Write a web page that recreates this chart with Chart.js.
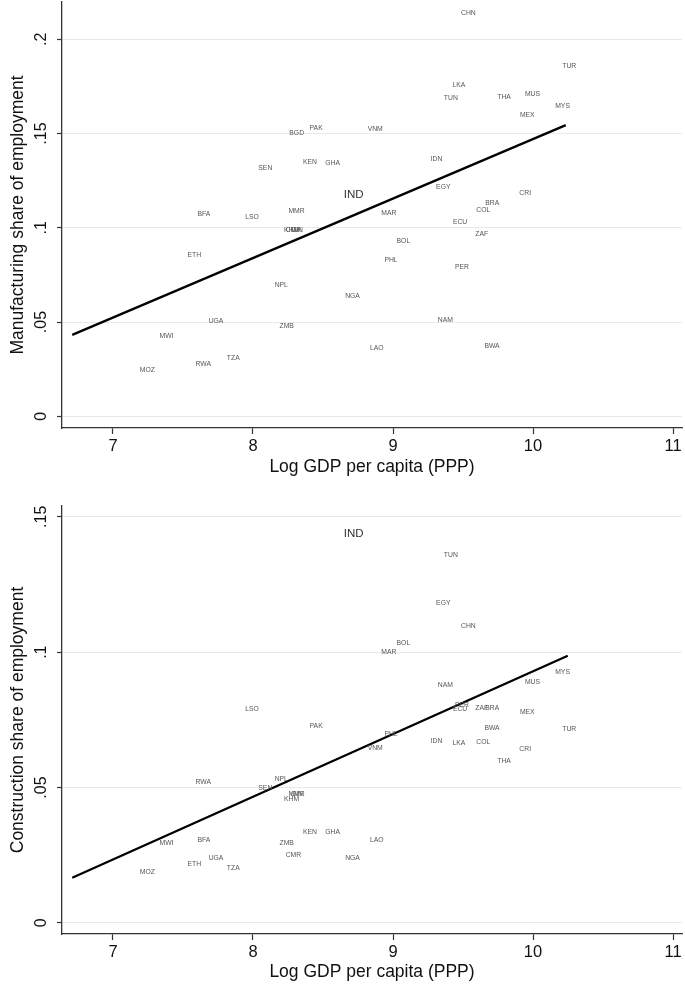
<!DOCTYPE html>
<html>
<head>
<meta charset="utf-8">
<script src="https://cdn.jsdelivr.net/npm/chart.js@4.4.1/dist/chart.umd.min.js"></script>
<style>
  html, body { margin: 0; padding: 0; background: #fff; }
  canvas { display: block; }
</style>
</head>
<body>
<canvas id="manufChart" width="685" height="480"></canvas>
<canvas id="constrChart" width="685" height="505"></canvas>
<script>
// Data
const countries = ["BGD","PAK","VNM","SEN","KEN","GHA","IND","BFA","LSO","MMR","CHN","TUR","LKA","TUN","THA","MUS","MYS","MEX","IDN","EGY","CRI","BRA","COL","MAR","KHM","CMR","GIN","ETH","NPL","NGA","UGA","ZMB","MWI","LAO","TZA","RWA","MOZ","ECU","ZAF","BOL","PHL","PER","NAM","BWA"];
const logGdp = [8.312, 8.451, 8.873, 8.088, 8.407, 8.569, 8.719, 7.650, 7.993, 8.311, 9.538, 10.259, 9.471, 9.413, 9.793, 9.996, 10.211, 9.959, 9.311, 9.359, 9.944, 9.709, 9.645, 8.970, 8.276, 8.289, 8.314, 7.581, 8.202, 8.711, 7.736, 8.241, 7.382, 8.884, 7.859, 7.645, 7.245, 9.479, 9.634, 9.074, 8.986, 9.493, 9.374, 9.707];
const manufShare = [0.1501, 0.1529, 0.1524, 0.1319, 0.1349, 0.1345, 0.1174, 0.1073, 0.1059, 0.1091, 0.2141, 0.1858, 0.1759, 0.1689, 0.1696, 0.1708, 0.1645, 0.1597, 0.1367, 0.1215, 0.1185, 0.1130, 0.1094, 0.1077, 0.0988, 0.0988, 0.0988, 0.0854, 0.0695, 0.0638, 0.0506, 0.0481, 0.0424, 0.0364, 0.0309, 0.0279, 0.0246, 0.1032, 0.0967, 0.0928, 0.0828, 0.0794, 0.0511, 0.0371];
const constrShare = [null, 0.0727, 0.0645, 0.0498, 0.0336, 0.0336, 0.1437, 0.0307, 0.0788, 0.0475, 0.1097, 0.0716, 0.0664, 0.1359, 0.0597, 0.0891, 0.0927, 0.0779, 0.0673, 0.1182, 0.0643, 0.0792, 0.0668, 0.0999, 0.0458, 0.0249, 0.0475, 0.0218, 0.0531, 0.0241, 0.0241, 0.0293, 0.0293, 0.0307, 0.0202, 0.0521, 0.0187, 0.0788, 0.0794, 0.1033, 0.0697, 0.0805, 0.0877, 0.0718];

// fitted lines (end points)
const manufFitX = [6.709, 10.234];
const manufFitY = [0.0432, 0.1545];
const constrFitX = [6.709, 10.248];
const constrFitY = [0.0167, 0.0987];

// ticks
const xTicks = [7, 8, 9, 10, 11];
const manufTicks = [0, 0.05, 0.1, 0.15, 0.2];
const manufTickLabels = ["0", ".05", ".1", ".15", ".2"];
const constrTicks = [0, 0.05, 0.1, 0.15];
const constrTickLabels = ["0", ".05", ".1", ".15"];

const FONT = "'Liberation Sans', Arial, sans-serif";

// country codes drawn at each point
const codeLabels = {
  id: "codeLabels",
  afterDatasetsDraw(chart){
    const ds = chart.data.datasets[0];
    const meta = chart.getDatasetMeta(0);
    const ctx = chart.ctx;
    ctx.save();
    ctx.textAlign = "center";
    ctx.textBaseline = "middle";
    meta.data.forEach((pt, i) => {
      const code = ds.data[i].code;
      const big = code === "IND";
      ctx.font = (big ? "11.5px " : "6.8px ") + FONT;
      ctx.fillStyle = big ? "#333" : "#555";
      ctx.fillText(code, pt.x, pt.y);
    });
    ctx.restore();
  }
};

function makeChart(id, shares, fitX, fitY, yTicks, yLabels, yMin, yMax, yTitle, padTop, xAxisH){
  const points = [];
  countries.forEach((c, i) => {
    if (shares[i] == null) return;
    points.push({ x: logGdp[i], y: shares[i], code: c });
  });
  const fit = fitX.map((x, i) => ({ x, y: fitY[i] }));

  return new Chart(document.getElementById(id).getContext("2d"), {
    type: "scatter",
    data: {
      datasets: [
        { data: points, pointRadius: 0, pointHoverRadius: 0 },
        { type: "line", data: fit, borderColor: "#000", borderWidth: 2.3, pointRadius: 0, fill: false }
      ]
    },
    options: {
      responsive: false,
      animation: false,
      layout: { padding: { top: padTop, right: 3, left: 0, bottom: 0 } },
      plugins: { legend: { display: false }, tooltip: { enabled: false } },
      scales: {
        x: {
          type: "linear",
          min: 6.636,
          max: 11.064,
          afterBuildTicks: s => { s.ticks = xTicks.map(v => ({ value: v })); },
          afterFit: s => { s.height = xAxisH; s.paddingLeft = 0; s.paddingRight = 0; },
          grid: { drawOnChartArea: false, tickLength: 6, tickColor: "#333", tickWidth: 1.2 },
          border: { color: "#333", width: 1.3 },
          ticks: { color: "#111", font: { family: FONT, size: 16.5 }, padding: 3, maxRotation: 0, autoSkip: false },
          title: { display: true, text: "Log GDP per capita (PPP)", color: "#111",
                   font: { family: FONT, size: 17.5 }, padding: { top: 0, bottom: 2 } }
        },
        y: {
          type: "linear",
          min: yMin,
          max: yMax,
          afterBuildTicks: s => { s.ticks = yTicks.map(v => ({ value: v })); },
          afterFit: s => { s.width = 62; s.paddingTop = 0; s.paddingBottom = 0; },
          grid: { color: "#e9e9e9", lineWidth: 1, tickLength: 5, tickColor: "#333", tickWidth: 1.2 },
          border: { color: "#333", width: 1.3 },
          ticks: {
            color: "#111",
            font: { family: FONT, size: 16 },
            minRotation: 90,
            maxRotation: 90,
            crossAlign: "center",
            padding: 4,
            autoSkip: false,
            callback: v => yLabels[yTicks.indexOf(v)]
          },
          title: { display: true, text: yTitle, color: "#111",
                   font: { family: FONT, size: 17.5 }, padding: { top: 8, bottom: 0 } }
        }
      }
    },
    plugins: [codeLabels]
  });
}

makeChart("manufChart", manufShare, manufFitX, manufFitY, manufTicks, manufTickLabels,
  -0.0062, 0.2198, "Manufacturing share of employment", 2, 52);
makeChart("constrChart", constrShare, constrFitX, constrFitY, constrTicks, constrTickLabels,
  -0.0041, 0.1540, "Construction share of employment", 26, 51);
</script>
</body>
</html>
